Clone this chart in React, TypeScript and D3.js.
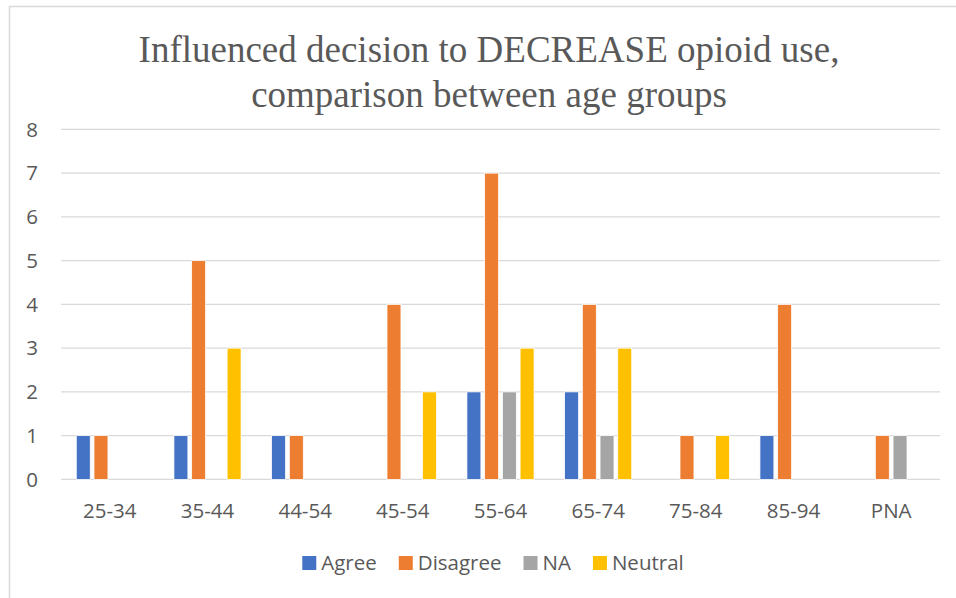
import * as d3 from 'd3';
import { useEffect, useRef } from 'react';

const ageGroups = ['25-34', '35-44', '44-54', '45-54', '55-64', '65-74', '75-84', '85-94', 'PNA'];
const seriesNames = ['Agree', 'Disagree', 'NA', 'Neutral'];
const seriesColors = ['#4472C4', '#ED7D31', '#A5A5A5', '#FFC000'];

const agree = [1, 1, 1, 0, 2, 2, 0, 1, 0];
const disagree = [1, 5, 1, 4, 7, 4, 1, 4, 1];
const na = [0, 0, 0, 0, 2, 1, 0, 0, 1];
const neutral = [0, 3, 0, 2, 3, 3, 1, 0, 0];

const yTicks = [0, 1, 2, 3, 4, 5, 6, 7, 8];
const titleLines = ['Influenced decision to DECREASE opioid use,', 'comparison between age groups'];

const W = 956;
const H = 598;

export default function App() {
  const svgRef = useRef<SVGSVGElement>(null);

  useEffect(() => {
    if (!svgRef.current) return;
    const svg = d3.select(svgRef.current);
    svg.selectAll('*').remove();

    const margin = { top: 129.4, right: 16, bottom: 118.6, left: 61 };
    const textColor = '#595959';
    const sans = '"Open Sans", sans-serif';

    const series = [agree, disagree, na, neutral];

    // chart frame (cropped at right/bottom in the original)
    svg.append('rect')
      .attr('x', 9.5).attr('y', 6.5)
      .attr('width', W + 20).attr('height', H + 20)
      .attr('fill', '#fff')
      .attr('stroke', '#d9d9d9')
      .attr('stroke-width', 1.5);

    const x0 = d3.scaleBand()
      .domain(ageGroups)
      .range([margin.left, W - margin.right])
      .padding(0);

    const x1 = d3.scaleBand()
      .domain(seriesNames)
      .range([0, x0.bandwidth()])
      .paddingInner(0.2126)
      .paddingOuter(0.862);

    const y = d3.scaleLinear()
      .domain([0, 8])
      .range([H - margin.bottom, margin.top]);

    // gridlines
    svg.append('g')
      .selectAll('line')
      .data(yTicks)
      .enter()
      .append('line')
      .attr('x1', margin.left)
      .attr('x2', W - margin.right)
      .attr('y1', d => y(d))
      .attr('y2', d => y(d))
      .attr('stroke', '#d9d9d9')
      .attr('stroke-width', 1.3);

    // y labels
    svg.append('g')
      .selectAll('text')
      .data(yTicks)
      .enter()
      .append('text')
      .attr('x', 38)
      .attr('y', d => y(d))
      .attr('dy', '0.35em')
      .attr('text-anchor', 'end')
      .style('font-family', sans)
      .style('font-size', '20.5px')
      .style('fill', textColor)
      .text(d => String(d));

    // bars
    const groups = svg.append('g')
      .selectAll('g')
      .data(ageGroups)
      .enter()
      .append('g')
      .attr('transform', d => `translate(${x0(d)},0)`);

    groups.selectAll('rect')
      .data((_, i) => seriesNames.map((s, j) => ({ s, j, v: series[j][i] })).filter(d => d.v > 0))
      .enter()
      .append('rect')
      .attr('x', d => x1(d.s) || 0)
      .attr('y', d => y(d.v))
      .attr('width', x1.bandwidth())
      .attr('height', d => y(0) - y(d.v))
      .attr('fill', d => seriesColors[d.j])
      .attr('stroke', '#fff')
      .attr('stroke-width', 0.75);

    // category labels
    svg.append('g')
      .selectAll('text')
      .data(ageGroups)
      .enter()
      .append('text')
      .attr('x', d => (x0(d) || 0) + x0.bandwidth() / 2)
      .attr('y', 518)
      .attr('text-anchor', 'middle')
      .style('font-family', sans)
      .style('font-size', '20.5px')
      .style('fill', textColor)
      .text(d => d);

    // title
    svg.append('g')
      .selectAll('text')
      .data(titleLines)
      .enter()
      .append('text')
      .attr('x', 489)
      .attr('y', (_, i) => 62 + i * 45)
      .attr('text-anchor', 'middle')
      .style('font-family', '"Liberation Serif", "Times New Roman", serif')
      .style('font-size', '37px')
      .style('fill', textColor)
      .text(d => d);

    // legend
    const legend = svg.append('g');
    const sw = 14;
    const gapAfterSwatch = 5;
    const itemGap = 22;
    const items = legend.selectAll('g')
      .data(seriesNames)
      .enter()
      .append('g');
    items.append('rect')
      .attr('width', sw)
      .attr('height', sw)
      .attr('y', -sw / 2)
      .attr('fill', (_, i) => seriesColors[i]);
    items.append('text')
      .attr('x', sw + gapAfterSwatch)
      .attr('dy', '0.35em')
      .style('font-family', sans)
      .style('font-size', '20.5px')
      .style('fill', textColor)
      .text(d => d);
    let cx = 0;
    items.each(function () {
      const g = d3.select(this);
      g.attr('transform', `translate(${cx},0)`);
      const tw = (g.select('text').node() as SVGTextElement).getComputedTextLength();
      cx += sw + gapAfterSwatch + tw + itemGap;
    });
    const total = cx - itemGap;
    legend.attr('transform', `translate(${493 - total / 2},563)`);
  }, []);

  return (
    <svg
      ref={svgRef}
      width={W}
      height={H}
      style={{ position: 'absolute', left: 0, top: 0, background: '#fff' }}
    ></svg>
  );
}
